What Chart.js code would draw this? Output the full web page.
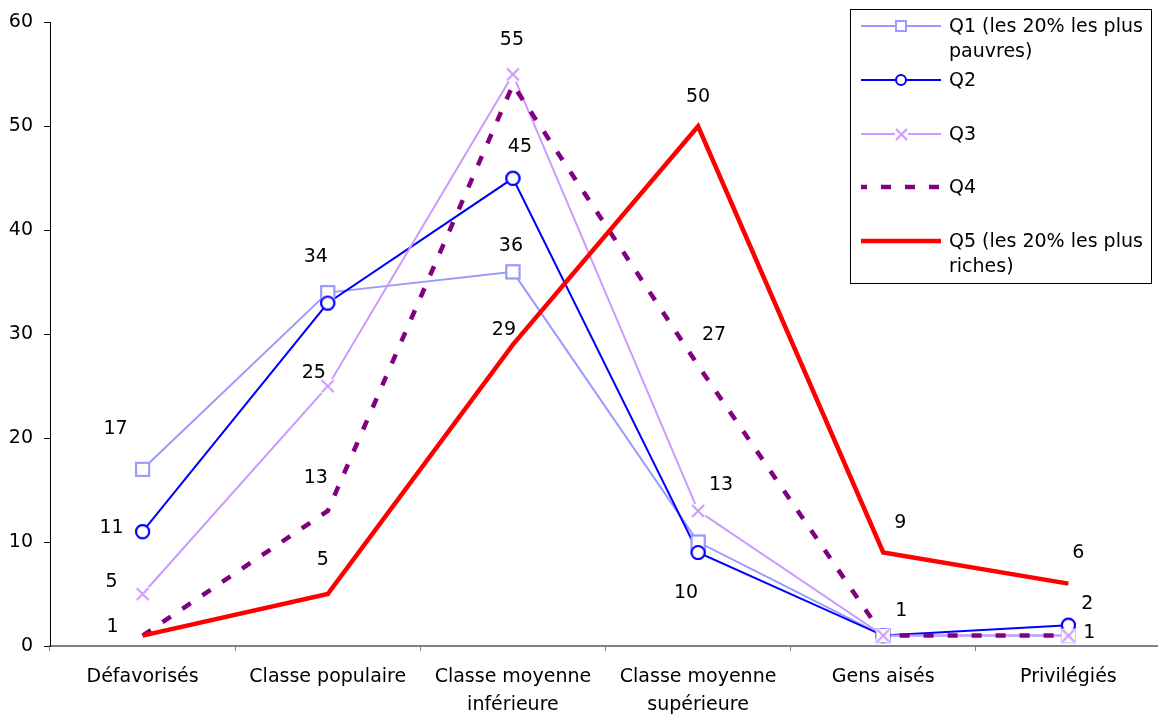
<!DOCTYPE html>
<html><head><meta charset="utf-8">
<script src="https://cdn.jsdelivr.net/npm/chart.js@4/dist/chart.umd.min.js"></script>
<style>
html,body{margin:0;padding:0;background:#fff;overflow:hidden;width:1158px;height:716px;}
#wrap{width:1170px;height:716px;}
canvas{display:block;}
</style></head><body>
<div id="wrap"><canvas id="c" width="1170" height="716"></canvas></div>
<script>
// ---- data ----
const categories = ['Défavorisés', 'Classe populaire', ['Classe moyenne', 'inférieure'], ['Classe moyenne', 'supérieure'], 'Gens aisés', 'Privilégiés'];
const seriesNames = [['Q1 (les 20% les plus', 'pauvres)'], ['Q2'], ['Q3'], ['Q4'], ['Q5 (les 20% les plus', 'riches)']];
const q1 = [17, 34, 36, 10, 1, 1];
const q2 = [11, 33, 45, 9, 1, 2];
const q3 = [5, 25, 55, 13, 1, 1];
const q4 = [1, 13, 54, 27, 1, 1];
const q5 = [1, 5, 29, 50, 9, 6];
const yTicks = [0, 10, 20, 30, 40, 50, 60];
const seriesData = [q1, q2, q3, q4, q5];

// ---- styling ----
const FONT = "'DejaVu Sans', sans-serif";
const FSIZE = 19;
const colors = ['#9999FF', '#0000FF', '#CC99FF', '#800080', '#FF0000'];

function makeMarker(kind, size, color, lw) {
  const s = Math.ceil(size + lw + 4);
  const c = document.createElement('canvas');
  c.width = s; c.height = s;
  const g = c.getContext('2d');
  const m = s / 2, h = size / 2;
  g.lineWidth = lw; g.strokeStyle = color; g.fillStyle = '#fff';
  if (kind === 'square') {
    g.fillRect(m - h, m - h, size, size);
    g.strokeRect(m - h, m - h, size, size);
  } else if (kind === 'circle') {
    g.beginPath(); g.arc(m, m, h, 0, Math.PI * 2); g.fill(); g.stroke();
  } else if (kind === 'cross') {
    g.fillRect(m - h - 1, m - h - 1, size + 2, size + 2);
    g.beginPath();
    g.moveTo(m - h, m - h); g.lineTo(m + h, m + h);
    g.moveTo(m + h, m - h); g.lineTo(m - h, m + h);
    g.stroke();
  }
  return c;
}
const plotMarkers = [makeMarker('square', 13, colors[0], 2), makeMarker('circle', 13, colors[1], 2), makeMarker('cross', 12, colors[2], 2), null, null];
const legendMarkers = [makeMarker('square', 10, colors[0], 2), makeMarker('circle', 10, colors[1], 2), makeMarker('cross', 11, colors[2], 2), null, null];

// label placements: [series, category index, dx, dy]
const labelSpots = [
  [0,0,-27,-40],[1,0,-31,-4],[2,0,-31,-12],[4,0,-30,-9],
  [0,1,-12,-36],[2,1,-14,-13],[3,1,-12,-33],[4,1,-5,-34],
  [2,2,-1,-34],[1,2,7,-31],[0,2,-2,-26],[4,2,-9,-15],
  [4,3,0,-29],[3,3,16,-30],[2,3,23,-26],[0,3,-12,51],
  [4,4,17,-29],[0,4,18,-25],
  [4,5,10,-31],[1,5,19,-21],[0,5,21,-3]
];

const datasets = seriesData.map((d, i) => ({
  label: seriesNames[i].join(' '),
  data: d,
  borderColor: colors[i],
  backgroundColor: colors[i],
  borderWidth: i >= 3 ? 4.5 : 2,
  borderDash: i === 3 ? [10, 14] : [],
  borderCapStyle: 'butt',
  tension: 0,
  pointStyle: plotMarkers[i] || 'circle',
  pointRadius: plotMarkers[i] ? 7 : 0,
  pointHoverRadius: plotMarkers[i] ? 7 : 0,
  order: 4 - i
}));

const overlay = {
  id: 'overlay',
  afterDatasetsDraw(chart) {
    const ctx = chart.ctx;
    [0, 1, 2].forEach(i => {
      chart.getDatasetMeta(i).data.forEach(p => p.draw(ctx, chart.chartArea));
    });
    const xs = chart.scales.x, ys = chart.scales.y;
    ctx.save();
    ctx.fillStyle = '#000';
    ctx.font = FSIZE + 'px ' + FONT;
    ctx.textAlign = 'center';
    ctx.textBaseline = 'middle';
    labelSpots.forEach(([s, k, dx, dy]) => {
      const v = seriesData[s][k];
      ctx.fillText(String(v), xs.getPixelForValue(k) + dx, ys.getPixelForValue(v) + dy);
    });
    ctx.restore();
  },
  afterDraw(chart) {
    const ctx = chart.ctx;
    ctx.save();
    ctx.fillStyle = '#fff';
    ctx.fillRect(850.5, 9.5, 301, 274);
    ctx.strokeStyle = '#000'; ctx.lineWidth = 1;
    ctx.strokeRect(850.5, 9.5, 301, 274);
    const rows = [26, 80, 134, 187, 241];
    datasets.forEach((ds, i) => {
      const y = rows[i];
      ctx.beginPath();
      ctx.setLineDash(ds.borderDash);
      ctx.lineDashOffset = 4;
      ctx.lineWidth = ds.borderWidth;
      ctx.strokeStyle = ds.borderColor;
      ctx.lineCap = 'butt';
      ctx.moveTo(861, y); ctx.lineTo(941, y);
      ctx.stroke();
      ctx.setLineDash([]);
      const mk = legendMarkers[i];
      if (mk) ctx.drawImage(mk, Math.round(901 - mk.width / 2), Math.round(y - mk.height / 2));
      ctx.fillStyle = '#000';
      ctx.font = FSIZE + 'px ' + FONT;
      ctx.textAlign = 'left';
      ctx.textBaseline = 'middle';
      seriesNames[i].forEach((t, k) => ctx.fillText(t, 949, y + 1 + k * 25));
    });
    ctx.restore();
  }
};

new Chart(document.getElementById('c'), {
  type: 'line',
  data: { labels: categories, datasets },
  options: {
    responsive: false,
    animation: false,
    devicePixelRatio: 1,
    layout: { padding: { top: 21, left: 0, right: 4, bottom: 0 } },
    plugins: { legend: { display: false }, tooltip: { enabled: false } },
    scales: {
      x: {
        offset: true,
        grid: { offset: true, drawOnChartArea: false, tickLength: 5, color: '#808080', lineWidth: 1 },
        border: { color: '#808080', width: 2 },
        ticks: { color: '#000', font: { family: FONT, size: FSIZE, lineHeight: 28 / FSIZE }, padding: 12, maxRotation: 0, autoSkip: false },
        afterFit: s => { s.height = 70; }
      },
      y: {
        min: 0, max: 60,
        afterBuildTicks: s => { s.ticks = yTicks.map(v => ({ value: v })); },
        grid: { drawOnChartArea: false, tickLength: 6, color: '#000', lineWidth: 1 },
        border: { color: '#000', width: 1 },
        ticks: { color: '#000', font: { family: FONT, size: FSIZE }, padding: 11 },
        afterFit: s => { s.width = 50; }
      }
    }
  },
  plugins: [overlay]
});
</script>
</body></html>
